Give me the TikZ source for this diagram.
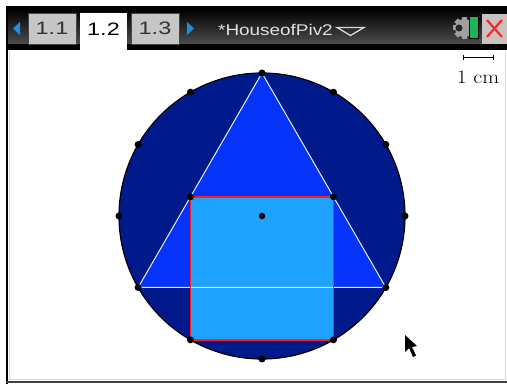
\documentclass[tikz,border=0pt]{standalone}
\usepackage{fontspec}
\usetikzlibrary{calc}
\newfontfamily\barfont{Liberation Sans}
\definecolor{discnavy}{HTML}{001A8C}
\definecolor{triblue}{HTML}{0533FA}
\definecolor{sqblue}{HTML}{1FA2FF}
\definecolor{sqred}{HTML}{FF1E1E}
\definecolor{tabgray}{HTML}{C6C6C6}
\definecolor{navarrow}{HTML}{1C8FE0}
\definecolor{battgreen}{HTML}{1DB45A}
\begin{document}
\begin{tikzpicture}[x=1pt, y=-1pt,
    dot/.style={circle, fill=black, inner sep=0pt, minimum size=7pt},
    tabbox/.style={fill=tabgray, draw=gray!55!black, line width=0.6pt, inner sep=0pt,
      minimum height=31pt, text=black!80},
    bartext/.style={font=\barfont\fontsize{18}{18}\selectfont}]
  \useasboundingbox (0,0) rectangle (507,385);
  % 1. frame and title bar
  \fill[white] (0,0) rectangle (507,385);
  \fill[black] (6,6) rectangle (507,50);
  \shade[top color=black, bottom color=black!70] (8,9) rectangle (507,44);
  \fill[white] (8,50) rectangle (505,380);
  \draw[gray!30] (9,50) -- (9,379) -- (505,379) -- (505,50);
  \draw[black, line width=2pt] (6.5,6) -- (6.5,384);
  \draw[black, line width=1.5pt] (6,6.5) -- (507,6.5);
  \draw[black!75, line width=2pt] (6,382.5) -- (507,382.5);

  % 2. tabs
  \fill[navarrow] (20,22) -- (20,35) -- (13,28.5) -- cycle;
  \node[tabbox, minimum width=48pt, bartext] (tab11) at (52,28.5) {\scalebox{1.3}[1]{1.1}};
  \fill[white] (80,13) rectangle (127,50);
  \node[bartext, text=black] (tab12) at (103.5,29) {\scalebox{1.3}[1]{1.2}};
  \node[tabbox, minimum width=48pt, bartext] (tab13) at (155,28.5) {\scalebox{1.3}[1]{1.3}};
  \fill[navarrow] (187,22) -- (187,35) -- (194,28.5) -- cycle;
  \node[bartext, font=\barfont\fontsize{15.5}{15.5}\selectfont, text=white!88!black,
    anchor=west, inner sep=0pt] (title) at (218,29.5) {\scalebox{1.22}[1]{*HouseofPiv2}};
  \draw[white!85!black, line width=1.3pt] (337,27.5) -- (364,27.5) -- (350.5,35.5) -- cycle;

  % 3. status icons
  \fill[gray!75] (464,28) circle (9);
  \foreach \a in {0,45,...,315}
    \fill[gray!75, rotate around={\a:(464,28)}] (461.5,17) rectangle (466.5,21);
  \fill[black!85] (459,28) circle (3.5);
  \draw[black, line width=1pt, fill=battgreen] (469,17) rectangle (478,39);
  \fill[red!8!gray!45] (482,14) rectangle (507,44);
  \draw[red!85, line width=2.2pt] (487,20) -- (502,37) (502,20) -- (487,37);

  % 4. circle, triangle and square
  \coordinate (c) at (262,216);
  \def\R{143}
  \fill[discnavy] (c) circle (\R);
  \draw[black, line width=1.2pt] (c) circle (\R);
  \foreach \k in {0,...,11}
    \coordinate (p\k) at ($(c)+(270+30*\k:\R)$);
  \fill[triblue] (p0) -- (p4) -- (p8) -- cycle;
  \coordinate (sqa) at ($(p7)+(0,-\R)$);
  \coordinate (sqb) at ($(p5)+(0,-\R)$);
  \fill[sqblue] (sqa) -- (sqb) -- (p5) -- (p7) -- cycle;
  \draw[white!85!sqblue, line width=1pt] (p0) -- (p4) -- (p8) -- cycle;
  \draw[sqred, line width=1.4pt] (sqa) -- (sqb) -- (p5) -- (p7) -- cycle;

  % 5. points
  \foreach \k in {0,...,11}
    \node[dot] at (p\k) {};
  \node[dot] at (sqa) {};
  \node[dot] at (sqb) {};
  \node[dot, minimum size=6.5pt] at (c) {};

  % 6. scale and pointer
  \draw[black, line width=1pt] (463,58) -- (493,58);
  \draw[black, line width=0.8pt] (463,55.5) -- (463,60.5) (493,55.5) -- (493,60.5);
  \node[font=\fontsize{19}{19}\selectfont, inner sep=0pt] (unit) at (478,77) {\scalebox{1.15}[1]{1 cm}};
  \fill[black] (405,335) -- (405,352) -- (409,348) -- (413,357) -- (416,355.5)
    -- (412,347) -- (417,346) -- cycle;
\end{tikzpicture}
\end{document}
